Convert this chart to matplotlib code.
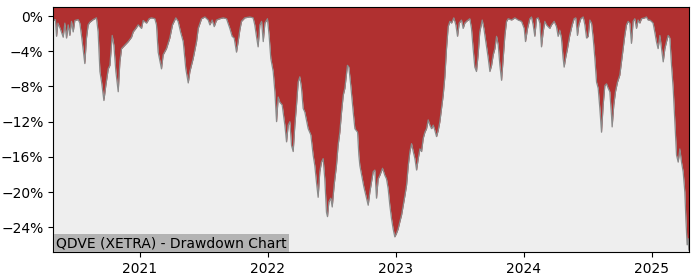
import matplotlib
matplotlib.use("Agg")
import matplotlib.pyplot as plt
from matplotlib.ticker import PercentFormatter

# drawdown: decimal year, drawdown in %
years = [
    2020.323, 2020.340, 2020.349, 2020.360, 2020.380, 2020.401, 2020.414, 2020.427,
    2020.440, 2020.453, 2020.466, 2020.479, 2020.492, 2020.518, 2020.531, 2020.544,
    2020.570, 2020.583, 2020.596, 2020.609, 2020.635, 2020.661, 2020.674, 2020.688,
    2020.701, 2020.719, 2020.734, 2020.753, 2020.766, 2020.784, 2020.797, 2020.8125,
    2020.831, 2020.844, 2020.857, 2020.883, 2020.909, 2020.935, 2020.948, 2020.969,
    2020.987, 2021.013, 2021.026, 2021.052, 2021.073, 2021.091, 2021.117, 2021.130,
    2021.143, 2021.169, 2021.182, 2021.208, 2021.234, 2021.255, 2021.281, 2021.299,
    2021.318, 2021.339, 2021.359, 2021.378, 2021.391, 2021.417, 2021.443, 2021.456,
    2021.482, 2021.508,
    2021.534, 2021.547, 2021.565, 2021.581, 2021.599, 2021.625, 2021.651, 2021.677,
    2021.703, 2021.721, 2021.737, 2021.755, 2021.768, 2021.781, 2021.794, 2021.820,
    2021.859, 2021.885, 2021.898, 2021.911, 2021.924, 2021.9375, 2021.951, 2021.964,
    2021.977, 2021.997, 2022.010, 2022.023, 2022.042, 2022.055, 2022.068, 2022.081,
    2022.094, 2022.112, 2022.133, 2022.146, 2022.159, 2022.172, 2022.185, 2022.198,
    2022.211, 2022.224, 2022.237, 2022.250, 2022.263, 2022.276, 2022.289, 2022.315,
    2022.336, 2022.354, 2022.367, 2022.380, 2022.393, 2022.406, 2022.419, 2022.432,
    2022.445, 2022.458, 2022.466, 2022.477, 2022.492, 2022.503, 2022.518, 2022.536,
    2022.549, 2022.5625, 2022.576, 2022.589, 2022.602, 2022.622, 2022.633, 2022.648,
    2022.667, 2022.680, 2022.701, 2022.711,
    2022.719, 2022.750, 2022.784, 2022.797, 2022.823, 2022.836, 2022.849, 2022.862,
    2022.875, 2022.896, 2022.914, 2022.927, 2022.940, 2022.953, 2022.966, 2022.979,
    2022.992, 2023.005, 2023.018, 2023.031, 2023.045, 2023.058, 2023.071, 2023.084,
    2023.097, 2023.110, 2023.123, 2023.136, 2023.149, 2023.162, 2023.175, 2023.188,
    2023.201, 2023.214, 2023.227, 2023.240, 2023.253, 2023.266, 2023.279, 2023.292,
    2023.305, 2023.318, 2023.331, 2023.344, 2023.357, 2023.370, 2023.383, 2023.396,
    2023.409, 2023.422, 2023.435, 2023.453, 2023.469, 2023.482, 2023.495, 2023.513,
    2023.526, 2023.539, 2023.552, 2023.565, 2023.578, 2023.591, 2023.604, 2023.617,
    2023.630, 2023.643, 2023.656, 2023.675, 2023.688, 2023.703, 2023.722, 2023.735,
    2023.748, 2023.761, 2023.774, 2023.787, 2023.800, 2023.813, 2023.826, 2023.839,
    2023.852, 2023.865, 2023.878, 2023.904, 2023.930, 2023.956,
    2023.982, 2024.003, 2024.013, 2024.029, 2024.047, 2024.060, 2024.073, 2024.086,
    2024.099, 2024.112, 2024.125, 2024.138, 2024.151, 2024.164, 2024.177, 2024.190,
    2024.203, 2024.216, 2024.237, 2024.255, 2024.268, 2024.281, 2024.294, 2024.307,
    2024.315, 2024.326, 2024.341, 2024.359, 2024.378, 2024.393, 2024.406, 2024.419,
    2024.430, 2024.445, 2024.464, 2024.477, 2024.490, 2024.503, 2024.516, 2024.529,
    2024.542, 2024.555, 2024.568, 2024.581, 2024.594, 2024.607, 2024.620, 2024.633,
    2024.646, 2024.659, 2024.672, 2024.685, 2024.690, 2024.703, 2024.716, 2024.732,
    2024.750, 2024.763, 2024.776, 2024.789, 2024.802, 2024.815, 2024.828, 2024.841,
    2024.854, 2024.867, 2024.880, 2024.893, 2024.906, 2024.919, 2024.945, 2024.958,
    2024.971, 2024.984, 2024.997, 2025.010, 2025.023, 2025.036, 2025.049, 2025.063,
    2025.076, 2025.089, 2025.102, 2025.115, 2025.128, 2025.141, 2025.154, 2025.167,
    2025.180, 2025.193, 2025.206, 2025.219, 2025.232, 2025.245, 2025.258, 2025.266,
    2025.276, 2025.284, 2025.289,
]
drawdown = [
    -0.5, -0.4, -2.3, -0.8, -1.5, -2.4, -0.8, -2.5,
    -1.0, -2.2, -0.6, -1.8, -0.5, -0.4, -0.8, -2.2,
    -5.4, -2.5, -1.0, -0.7, -0.4, -0.2, -1.8, -6.3,
    -7.5, -9.6, -7.9, -6.0, -5.6, -2.2, -3.3, -6.3,
    -8.6, -5.2, -3.7, -3.3, -2.9, -2.4, -1.8, -1.4,
    -1.0, -1.4, -0.5, -0.8, -0.3, -0.2, -0.3, -1.0,
    -4.1, -6.0, -4.4, -3.7, -2.5, -1.0, -0.2, -0.6,
    -1.8, -2.9, -6.0, -7.6, -6.3, -4.8, -2.9, -1.4,
    -0.3, -0.1,
    -0.45, -1.0, -0.45, -1.2, -0.45, -0.3, -0.2, -0.3,
    -1.4, -2.3, -2.5, -4.1, -2.9, -1.6, -0.6, -0.2,
    -0.1, -0.2, -1.0, -2.3, -3.5, -1.0, -0.6, -2.9,
    -0.8, -0.3, -2.2, -4.8, -6.3, -8.6, -12.0, -9.2,
    -9.8, -10.1, -12.4, -14.3, -12.4, -12.0, -14.7, -15.4,
    -12.4, -10.1, -7.5, -6.9, -8.2, -10.5, -10.9, -12.8,
    -13.5, -15.8, -17.0, -18.9, -20.6, -17.7, -16.6, -16.2,
    -18.5, -22.3, -22.8, -21.1, -20.7, -21.7, -19.2, -17.0,
    -14.7, -13.2, -10.9, -9.0, -8.2, -5.6, -5.8, -7.9,
    -10.9, -12.8, -13.2, -15.8,
    -17.0, -19.4, -21.5, -20.0, -17.7, -17.5, -20.7, -18.5,
    -18.1, -17.3, -18.1, -18.5, -19.6, -21.5, -23.0, -24.2,
    -25.1, -24.7, -24.2, -23.4, -22.6, -21.5, -20.4, -19.2,
    -17.0, -15.4, -14.5, -15.4, -16.2, -17.5, -16.2, -15.1,
    -15.4, -13.9, -13.2, -12.8, -11.8, -12.4, -12.8, -12.4,
    -13.0, -13.7, -13.0, -12.0, -10.5, -9.0, -6.9, -3.7,
    -1.2, -0.6, -0.8, -0.2, -1.0, -2.3, -0.8, -0.45,
    -1.4, -0.8, -0.6, -0.45, -0.3, -1.4, -3.7, -5.8,
    -6.3, -4.4, -1.8, -0.45, -1.4, -2.9, -4.8, -6.3,
    -5.6, -4.4, -3.7, -2.3, -3.3, -5.6, -7.3, -4.8,
    -2.2, -0.6, -0.3, -0.45, -0.2, -0.45,
    -0.6, -1.4, -2.9, -1.4, -0.3, -0.1, -1.0, -2.3,
    -0.3, -0.2, -0.8, -3.5, -1.8, -0.6, -1.0, -1.2,
    -1.4, -1.0, -0.6, -1.2, -2.3, -1.6, -2.5, -4.8,
    -5.8, -4.8, -3.7, -2.2, -1.0, -0.3, -0.2, -2.2,
    -1.0, -0.3, -0.1, -1.0, -2.5, -2.3, -0.45, -0.8,
    -2.5, -4.8, -7.5, -8.2, -10.5, -13.2, -10.1, -7.9,
    -7.7, -8.2, -8.6, -11.3, -12.6, -10.1, -8.6, -7.5,
    -6.7, -5.2, -3.7, -2.2, -1.0, -0.6, -0.8, -3.1,
    -0.6, -0.3, -1.4, -0.45, -0.8, -0.3, -0.2, -0.1,
    -0.45, -0.45, -0.6, -0.8, -1.8, -2.9, -3.7, -2.2,
    -3.7, -5.2, -3.7, -2.9, -2.2, -2.5, -5.6, -8.2,
    -12.0, -15.8, -16.6, -15.1, -16.6, -17.7, -20.0, -23.0,
    -26.0, -25.3, -26.6,
]

year_ticks = [2021, 2022, 2023, 2024, 2025]
pct_ticks = [0, -4, -8, -12, -16, -20, -24]
title = "QDVE (XETRA) - Drawdown Chart"

y_top = 1.0
y_bottom = -26.85

fig = plt.figure(figsize=(7, 2.8), dpi=100)
ax = fig.add_axes([0.076, 0.099, 0.908, 0.875])
ax.set_facecolor("#eeeeee")

ax.fill_between(years, drawdown, y_top, color="#b03030", linewidth=0)
ax.plot(years, drawdown, color="#8a8a8a", linewidth=0.9)

ax.set_xlim(years[0], years[-1])
ax.set_ylim(y_bottom, y_top)
ax.set_xticks(year_ticks)
ax.set_xticklabels([str(y) for y in year_ticks])
ax.set_yticks(pct_ticks)
ax.yaxis.set_major_formatter(PercentFormatter(decimals=0))
ax.tick_params(labelsize=10)

ax.annotate(title, xy=(0, 0), xycoords="axes fraction",
            xytext=(2, 1.6), textcoords="offset points",
            ha="left", va="bottom", fontsize=10,
            bbox=dict(facecolor="#b3b3b3", edgecolor="none", pad=1.6))

fig.savefig("out.png", dpi=100)
